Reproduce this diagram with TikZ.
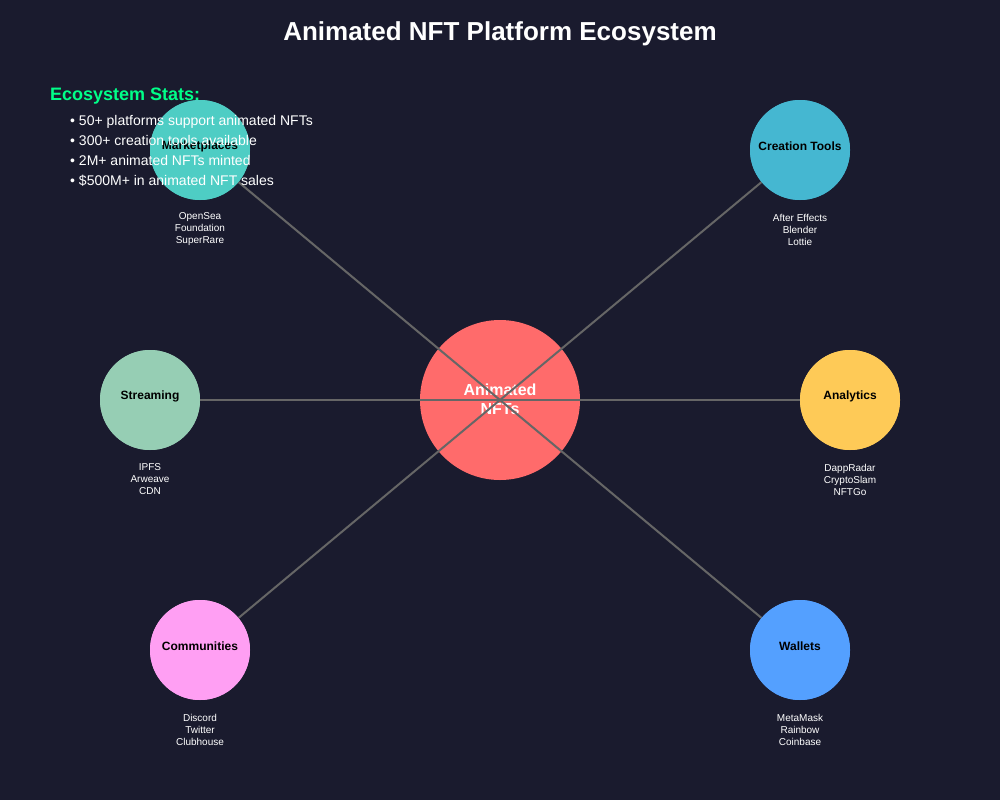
\documentclass[tikz,border=0pt]{standalone}
\usepackage{fontspec}
\setmainfont{Liberation Sans}
\definecolor{bg}{HTML}{1A1B2E}
\definecolor{cCenter}{HTML}{FF6B6B}
\definecolor{cMarket}{HTML}{4ECDC4}
\definecolor{cCreate}{HTML}{45B7D1}
\definecolor{cStream}{HTML}{96CEB4}
\definecolor{cAnaly}{HTML}{FECA57}
\definecolor{cComm}{HTML}{FF9FF3}
\definecolor{cWallet}{HTML}{54A0FF}
\definecolor{cLine}{HTML}{666666}
\definecolor{cStat}{HTML}{00FF88}
\tikzset{
  hub/.style={circle, minimum size=100pt, inner sep=0pt, fill=#1},
  hublabel/.style={font=\fontsize{12}{14}\selectfont\bfseries, text=black},
  sublabel/.style={font=\fontsize{10}{12}\selectfont, text=white, align=center},
  conn/.style={draw=cLine, line width=2pt},
  statitem/.style={font=\fontsize{14}{16}\selectfont, text=white, anchor=base west}
}
\begin{document}
\begin{tikzpicture}[x=1pt,y=-1pt]
\fill[bg] (0,0) rectangle (1000,800);
\useasboundingbox (0,0) rectangle (1000,800);
\node[font=\fontsize{26}{30}\selectfont\bfseries, text=white] (title) at (500,34) {Animated NFT Platform Ecosystem};
% center
\node[circle, minimum size=160pt, inner sep=0pt, fill=cCenter] (center) at (500,400) {};
\node[font=\fontsize{16}{20}\selectfont\bfseries, text=white, align=center] (centertext) at (500,399) {Animated\\[-1pt]NFTs};
% outer circles
\node[hub=cMarket] (market) at (200,150) {};
\node[hub=cCreate] (create) at (800,150) {};
\node[hub=cStream] (stream) at (150,400) {};
\node[hub=cAnaly] (analy) at (850,400) {};
\node[hub=cComm] (comm) at (200,650) {};
\node[hub=cWallet] (wallet) at (800,650) {};
% connectors
\foreach \n in {market,create,stream,analy,comm,wallet}
  \draw[conn] (center.center) -- (\n);
% redraw outer circles on top
\foreach \n/\c in {market/cMarket,create/cCreate,stream/cStream,analy/cAnaly,comm/cComm,wallet/cWallet}
  \fill[\c] (\n.center) circle (50pt);
% labels
\node[hublabel] (marketlbl) at (200,146) {Marketplaces};
\node[hublabel] (createlbl) at (800,146) {Creation Tools};
\node[hublabel] (streamlbl) at (150,396) {Streaming};
\node[hublabel] (analylbl) at (850,396) {Analytics};
\node[hublabel] (commlbl) at (200,646) {Communities};
\node[hublabel] (walletlbl) at (800,646) {Wallets};
\node[sublabel] (marketsub) at (200,229.5) {OpenSea\\Foundation\\SuperRare};
\node[sublabel] (createsub) at (800,229.5) {After Effects\\Blender\\Lottie};
\node[sublabel] (streamsub) at (150,479.5) {IPFS\\Arweave\\CDN};
\node[sublabel] (analysub) at (850,479.5) {DappRadar\\CryptoSlam\\NFTGo};
\node[sublabel] (commsub) at (200,729.5) {Discord\\Twitter\\Clubhouse};
\node[sublabel] (walletsub) at (800,729.5) {MetaMask\\Rainbow\\Coinbase};
% stats
\node[font=\fontsize{18}{22}\selectfont\bfseries, text=cStat, anchor=base west, inner sep=0pt] (stathead) at (50,100) {Ecosystem Stats:};
\node[statitem, inner sep=0pt] (s1) at (70,125) {• 50+ platforms support animated NFTs};
\node[statitem, inner sep=0pt] (s2) at (70,145) {• 300+ creation tools available};
\node[statitem, inner sep=0pt] (s3) at (70,165) {• 2M+ animated NFTs minted};
\node[statitem, inner sep=0pt] (s4) at (70,185) {• \$500M+ in animated NFT sales};
\end{tikzpicture}
\end{document}
